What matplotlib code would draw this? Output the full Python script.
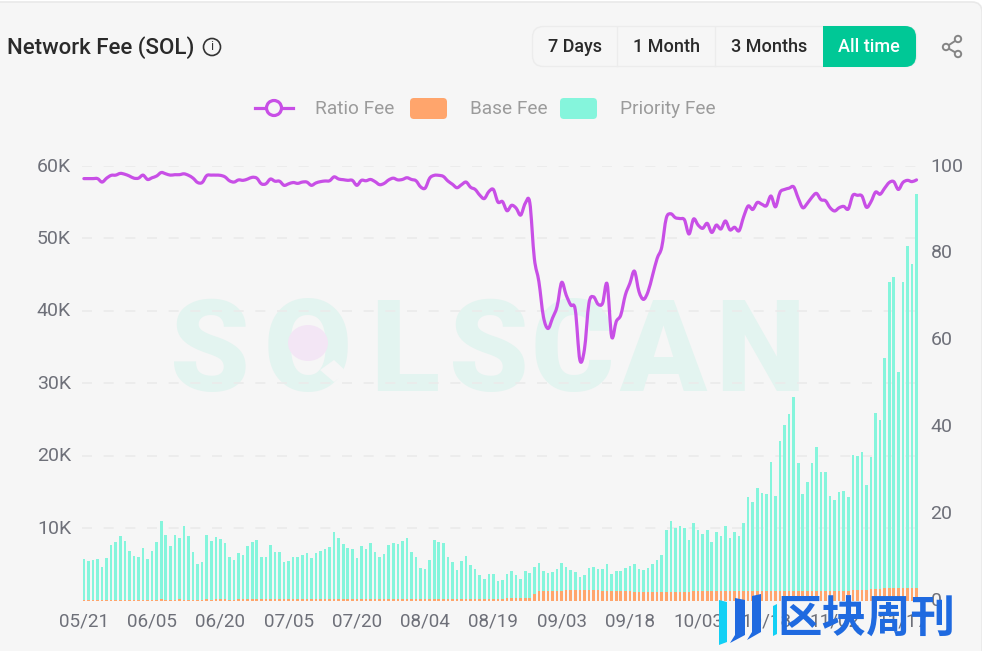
import matplotlib
matplotlib.use('Agg')
import matplotlib.pyplot as plt
from matplotlib.patches import Circle, Ellipse, FancyBboxPatch, PathPatch, Polygon, Rectangle
from matplotlib.path import Path
from matplotlib.ticker import FixedLocator
from matplotlib.transforms import ScaledTranslation
import numpy as np

plt.rcParams['font.family'] = ['Roboto', 'Noto Sans CJK SC', 'DejaVu Sans']

# values, fees in thousands of SOL
total_fee = [
    5.75, 5.43, 5.62, 5.71, 4.61, 5.84, 7.72, 8.08, 8.86, 8.17,
    6.85, 6.16, 5.94, 7.21, 5.75, 6.80, 8.04, 10.91, 9.04, 7.53,
    9.09, 8.63, 10.23, 8.90, 6.71, 5.07, 5.34, 9.00, 8.22, 8.81,
    8.45, 7.94, 6.03, 5.62, 6.53, 6.30, 7.49, 8.08, 8.36, 5.98,
    5.98, 7.67, 6.67, 6.67, 5.34, 5.48, 6.07, 5.98, 6.30, 6.53,
    5.84, 6.53, 6.80, 7.12, 7.40, 9.45, 8.58, 7.76, 7.21, 7.17,
    5.84, 7.49, 7.17, 7.90, 6.71, 5.98, 6.44, 7.67, 7.90, 7.76,
    8.17, 8.58, 6.76, 6.07, 4.43, 4.29, 5.62, 8.36, 8.04, 7.90,
    5.98, 5.25, 4.16, 5.52, 6.12, 4.93, 4.38, 3.56, 3.01, 3.70,
    3.70, 2.74, 2.88, 3.65, 4.06, 3.52, 2.92, 4.06, 3.84, 4.61,
    5.16, 4.06, 3.79, 3.93, 4.34, 5.11, 4.57, 4.20, 3.93, 3.24,
    3.52, 4.43, 4.61, 4.34, 4.38, 4.98, 3.65, 4.02, 4.06, 4.47,
    4.75, 5.02, 4.34, 4.16, 4.52, 4.98, 5.62, 6.35, 9.73, 10.91,
    10.00, 10.27, 10.05, 8.36, 10.73, 9.68, 9.23, 9.73, 8.14, 9.45,
    8.86, 10.23, 8.64, 9.41, 8.91, 10.77, 14.32, 13.55, 15.50, 14.91,
    14.73, 19.09, 14.45, 22.09, 24.27, 25.77, 28.05, 19.05, 14.77, 16.36,
    19.05, 21.23, 17.68, 17.77, 14.45, 13.86, 15.05, 15.14, 14.36, 20.09,
    20.00, 20.55, 15.95, 19.77, 25.86, 24.95, 33.50, 44.00, 44.70, 31.50,
    44.00, 49.00, 46.50, 56.20,
]

base_fee = [
    0.12, 0.12, 0.12, 0.12, 0.12, 0.13, 0.12, 0.13, 0.12, 0.13,
    0.13, 0.12, 0.13, 0.13, 0.12, 0.13, 0.13, 0.14, 0.13, 0.13,
    0.13, 0.14, 0.13, 0.13, 0.12, 0.13, 0.13, 0.14, 0.13, 0.14,
    0.14, 0.14, 0.13, 0.13, 0.14, 0.14, 0.14, 0.14, 0.15, 0.14,
    0.14, 0.15, 0.14, 0.14, 0.14, 0.14, 0.15, 0.14, 0.15, 0.15,
    0.15, 0.15, 0.15, 0.16, 0.16, 0.17, 0.16, 0.16, 0.16, 0.16,
    0.16, 0.16, 0.16, 0.16, 0.16, 0.16, 0.16, 0.16, 0.17, 0.16,
    0.17, 0.17, 0.16, 0.16, 0.15, 0.15, 0.16, 0.17, 0.17, 0.17,
    0.16, 0.15, 0.15, 0.16, 0.16, 0.15, 0.15, 0.14, 0.14, 0.14,
    0.14, 0.14, 0.14, 0.36, 0.37, 0.37, 0.36, 0.37, 0.37, 0.96,
    1.37, 1.37, 1.37, 1.37, 1.37, 1.37, 1.46, 1.46, 1.46, 1.42,
    1.40, 1.40, 1.40, 1.40, 1.37, 1.37, 1.37, 1.37, 1.37, 1.30,
    1.25, 1.23, 1.23, 1.23, 1.23, 1.23, 1.23, 1.20, 1.20, 1.23,
    1.23, 1.23, 1.23, 1.23, 1.25, 1.25, 1.25, 1.25, 1.25, 1.25,
    1.25, 1.25, 1.25, 1.27, 1.27, 1.27, 1.30, 1.30, 1.32, 1.32,
    1.32, 1.32, 1.36, 1.36, 1.36, 1.36, 1.36, 1.36, 1.36, 1.36,
    1.36, 1.36, 1.36, 1.36, 1.36, 1.36, 1.36, 1.36, 1.36, 1.40,
    1.40, 1.40, 1.50, 1.55, 1.60, 1.60, 1.68, 1.68, 1.68, 1.68,
    1.70, 1.72, 1.72, 1.75,
]

ratio_fee = [
    97.1, 97.1, 97.1, 97.1, 96.3, 97.2, 97.85, 97.9, 98.3, 98.1,
    97.7, 97.2, 97.2, 97.9, 96.9, 97.3, 97.7, 98.5, 98.2, 97.9,
    98.0, 98.0, 98.2, 97.85, 97.2, 96.2, 96.2, 97.8, 97.9, 97.9,
    97.85, 97.5, 96.6, 96.3, 96.8, 96.7, 97.0, 97.4, 97.2, 95.9,
    95.9, 97.0, 96.5, 96.5, 95.55, 95.9, 96.2, 96.0, 96.3, 96.3,
    95.55, 96.1, 96.4, 96.55, 96.6, 97.5, 97.0, 96.85, 96.7, 96.7,
    95.55, 96.7, 96.6, 96.9, 96.4, 95.7, 96.0, 96.8, 97.2, 96.8,
    96.9, 97.3, 96.9, 96.6, 95.2, 94.9, 97.2, 97.85, 97.85, 97.6,
    96.55, 95.8, 95.0, 95.7, 96.3, 95.1, 94.6, 93.3, 92.5, 94.1,
    94.6, 91.7, 91.8, 89.7, 90.95, 90.3, 88.7, 91.4, 91.6, 78.75,
    73.4, 65.3, 62.6, 65.0, 67.65, 73.2, 70.3, 68.0, 66.9, 55.4,
    57.7, 68.4, 69.9, 68.2, 68.4, 72.85, 60.7, 64.2, 65.7, 70.3,
    73.0, 75.8, 71.1, 69.3, 71.1, 74.9, 78.75, 81.3, 88.0, 89.0,
    88.1, 87.9, 87.6, 84.35, 87.8, 86.4, 85.65, 86.8, 84.7, 86.4,
    85.5, 87.35, 85.3, 85.9, 85.1, 88.3, 90.8, 90.0, 91.6, 91.2,
    90.85, 93.1, 90.6, 93.95, 94.6, 94.9, 95.2, 92.6, 90.4, 91.4,
    92.8, 93.7, 92.25, 92.0, 90.4, 89.65, 90.4, 90.7, 90.1, 93.25,
    93.25, 93.1, 90.5, 91.8, 94.0, 93.5, 94.9, 96.2, 96.4, 94.6,
    96.2, 96.7, 96.4, 96.8,
]

date_labels = ['05/21', '06/05', '06/20', '07/05', '07/20', '08/04', '08/19',
               '09/03', '09/18', '10/03', '10/18', '11/02', '11/17']
left_ticks = [10, 20, 30, 40, 50, 60]
right_ticks = [0, 20, 40, 60, 80, 100]
range_buttons = ['7 Days', '1 Month', '3 Months', 'All time']

W, H = 982, 651
BG = '#f6f6f6'
PURPLE = '#c84fe6'
ORANGE = '#ffa56c'
MINT = '#85f5dc'
GREEN = '#00c896'
GREY = '#6e7079'
LEGEND_GREY = '#9b9b9b'
WATERMARK = '#e3f4f0'


def smooth_line(xs, ys, tension=0.33):
    # bezier through every point, the way the web chart rounds its line
    slopes = np.gradient(np.asarray(ys, dtype=float))
    verts = [(xs[0], ys[0])]
    for i in range(len(xs) - 1):
        verts.append((xs[i] + tension, ys[i] + slopes[i] * tension))
        verts.append((xs[i + 1] - tension, ys[i + 1] - slopes[i + 1] * tension))
        verts.append((xs[i + 1], ys[i + 1]))
    codes = [Path.MOVETO] + [Path.CURVE4] * (len(verts) - 1)
    return Path(verts, codes)


fig = plt.figure(figsize=(W / 100, H / 100), dpi=100, facecolor='white')

# background layer in pixel coordinates: card and watermark
bg = fig.add_axes([0, 0, 1, 1], zorder=0)
bg.set_xlim(0, W)
bg.set_ylim(H, 0)
bg.axis('off')
bg.add_patch(FancyBboxPatch((-12, 2), W + 12, H + 20, boxstyle='round,pad=0,rounding_size=10',
                            fc=BG, ec='#e9e9e9', lw=1.2))
for letter, lx in zip('SOLSCAN', [210, 308, 405, 489, 572, 663, 760]):
    bg.text(lx, 343, letter, fontsize=92, fontweight=900, color=WATERMARK,
            ha='center', va='center_baseline')
bg.add_patch(Polygon([(334, 360), (347, 372), (334, 382), (320, 370)], fc=BG, ec='none', zorder=4))
bg.add_patch(Ellipse((308, 343), 40, 36, fc='#f3e6f5', ec='none', zorder=5))

# the chart itself
ax1 = fig.add_axes([81.6 / W, (H - 600.5) / H, 837.2 / W, 434.5 / H], zorder=1)
ax1.patch.set_alpha(0)
ax2 = ax1.twinx()
ax2.patch.set_alpha(0)

x = np.arange(len(total_fee))
priority_fee = np.array(total_fee) - np.array(base_fee)
ax1.bar(x, base_fee, width=0.58, color=ORANGE, linewidth=0, zorder=3)
ax1.bar(x, priority_fee, bottom=base_fee, width=0.58, color=MINT, linewidth=0, zorder=3)
ax2.add_patch(PathPatch(smooth_line(x, ratio_fee), fc='none', ec=PURPLE, lw=2.3,
                        joinstyle='round', capstyle='round', zorder=5))

ax1.set_xlim(-0.5, len(total_fee) - 0.5)
ax1.set_ylim(0, 60)
ax2.set_ylim(0, 100)
ax1.grid(axis='y', color='#ebebeb', lw=1.2, linestyle=(0, (6, 7)), zorder=1)
ax1.set_axisbelow(True)

ax1.xaxis.set_major_locator(FixedLocator(x[::15]))
ax1.set_xticklabels(date_labels)
ax1.set_yticks(left_ticks)
ax1.set_yticklabels(['%dK' % v for v in left_ticks])
ax2.set_yticks(right_ticks)
ax1.tick_params(axis='x', length=0, pad=8.5, labelsize=13.6, labelcolor=GREY)
ax1.tick_params(axis='y', length=0, pad=7.6, labelsize=14, labelcolor=GREY)
ax2.tick_params(axis='y', length=0, pad=8.4, labelsize=14, labelcolor=GREY)
for ax in (ax1, ax2):
    for side in ax.spines:
        ax.spines[side].set_visible(False)
    # web labels sit a little higher than matplotlib puts them
    for lab in ax.get_yticklabels():
        lab.set_transform(lab.get_transform() + ScaledTranslation(0, 0.015, fig.dpi_scale_trans))

# header and legend go on top, again in pixels
fg = fig.add_axes([0, 0, 1, 1], zorder=5)
fg.set_xlim(0, W)
fg.set_ylim(H, 0)
fg.axis('off')
fg.patch.set_alpha(0)

fg.text(7, 47.5, 'Network Fee (SOL)', fontsize=16, fontweight='medium', color='#2a2a2a', va='center')
fg.add_patch(Circle((212, 47), 8.5, fc='none', ec='#333333', lw=1.2))
fg.text(212, 47, 'i', fontsize=9, color='#333333', ha='center', va='center')

fg.add_patch(FancyBboxPatch((532.5, 26.5), 384, 40, boxstyle='round,pad=0,rounding_size=11',
                            fc=BG, ec='#ececec', lw=1))
fg.add_patch(FancyBboxPatch((823, 26), 93, 41, boxstyle='round,pad=0,rounding_size=11',
                            fc=GREEN, ec='none'))
fg.add_patch(Rectangle((823, 26), 15, 41, fc=GREEN, ec='none'))
for sx in [617.5, 715.5]:
    fg.plot([sx, sx], [27, 66], color='#ececec', lw=1)
for label, cx in zip(range_buttons, [575, 666.5, 769, 869]):
    fg.text(cx, 46.5, label, fontsize=13, fontweight='medium', ha='center', va='center',
            color='white' if label == 'All time' else '#2a2a2a')

# share icon
share_pts = [(958, 39), (946, 47), (958, 54)]
fg.plot([p[0] for p in share_pts], [p[1] for p in share_pts], color='#858585', lw=1.4)
for p in share_pts:
    fg.add_patch(Circle(p, 3.2, fc=BG, ec='#858585', lw=1.4, zorder=4))

# legend
fg.plot([255, 293], [108, 108], color=PURPLE, lw=2.3)
fg.add_patch(Circle((274, 108), 7.5, fc=BG, ec=PURPLE, lw=2.3, zorder=4))
fg.text(315, 108.5, 'Ratio Fee', fontsize=13.7, color=LEGEND_GREY, va='center')
fg.add_patch(FancyBboxPatch((410, 98), 37, 21, boxstyle='round,pad=0,rounding_size=4', fc=ORANGE, ec='none'))
fg.text(470, 108.5, 'Base Fee', fontsize=13.7, color=LEGEND_GREY, va='center')
fg.add_patch(FancyBboxPatch((560, 98), 37, 21, boxstyle='round,pad=0,rounding_size=4', fc=MINT, ec='none'))
fg.text(620, 108.5, 'Priority Fee', fontsize=13.7, color=LEGEND_GREY, va='center')

# publisher mark over the lower right corner
fg.add_patch(Polygon([(719, 600), (727, 602), (727, 642), (719, 645)], fc='#12d0f5', ec='none'))
fg.add_patch(Polygon([(735, 598), (745, 600), (745, 635), (730, 643), (735, 635)], fc='#1f6ae0', ec='none'))
fg.add_patch(Polygon([(752, 596), (761, 594), (761, 632), (747, 640), (752, 632)], fc='#1f6ae0', ec='none'))
fg.add_patch(Polygon([(773, 606), (777, 604), (777, 634), (773, 636)], fc='#12d0f5', ec='none'))
fg.text(866.5, 620, '区块周刊', fontsize=32, fontweight='bold', color='#1f6ae0',
        ha='center', va='center', family=['Noto Sans CJK SC', 'DejaVu Sans'])

fig.savefig('out.png', dpi=100, facecolor=fig.get_facecolor())
